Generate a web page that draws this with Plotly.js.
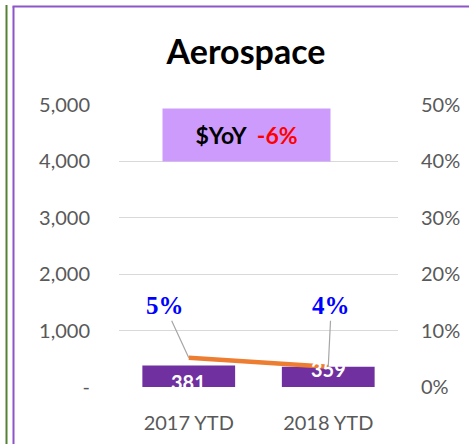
<!DOCTYPE html>
<html>
<head>
<meta charset="utf-8">
<script src="https://cdn.plot.ly/plotly-3.0.1.min.js"></script>
<style>
html,body{margin:0;padding:0;background:#fff;}
#chart{width:469px;height:444px;}
</style>
</head>
<body>
<div id="chart"></div>
<script>
// Data
const categories = ['2017 YTD', '2018 YTD'];
const salesValues = [381, 359];
const marginValues = [0.052, 0.036];
const marginLabels = ['5%', '4%'];
const yTickVals = [0, 1000, 2000, 3000, 4000, 5000];
const yTickText = ['-', '1,000', '2,000', '3,000', '4,000', '5,000'];
const y2TickVals = [0, 0.1, 0.2, 0.3, 0.4, 0.5];
const y2TickText = ['0%', '10%', '20%', '30%', '40%', '50%'];
const chartTitle = 'Aerospace';
const yoyLabel = '$YoY';
const yoyValue = '-6%';

const FONT = 'Lato, "Open Sans", sans-serif';
const GRAY = '#595959';

const traces = [
  {
    type: 'bar',
    x: categories,
    y: salesValues,
    marker: {color: '#7030A0'},
    width: 0.665,
    hoverinfo: 'skip',
    showlegend: false
  },
  {
    type: 'scatter',
    mode: 'lines',
    x: categories,
    y: marginValues,
    yaxis: 'y2',
    line: {color: '#ED7D31', width: 4.5},
    hoverinfo: 'skip',
    showlegend: false
  }
];

const annotations = [];
// bar value labels
const barShifts = [-16, -2];
categories.forEach((c, i) => {
  annotations.push({
    xref: 'x', yref: 'y', x: c, y: salesValues[i],
    text: '<b>' + salesValues[i] + '</b>',
    showarrow: false, yanchor: 'middle', yshift: barShifts[i],
    font: {family: FONT, size: 20, color: '#FFFFFF'}
  });
});
// margin labels with leader lines
const labelOffsets = [[-24, -52], [3, -61]];
categories.forEach((c, i) => {
  annotations.push({
    xref: 'x', yref: 'y2', x: c, y: marginValues[i],
    text: '<b>' + marginLabels[i] + '</b>',
    showarrow: true, arrowhead: 0, arrowwidth: 1.2, arrowcolor: '#A6A6A6',
    ax: labelOffsets[i][0], ay: labelOffsets[i][1], standoff: 0,
    font: {family: '"Liberation Serif", "Times New Roman", serif', size: 25, color: '#0000FF'}
  });
});
// YoY box
annotations.push({
  xref: 'paper', yref: 'paper',
  x: (246.5 - 119) / 279, y: (387 - 135) / 282,
  xanchor: 'center', yanchor: 'middle',
  width: 167, height: 52, bgcolor: '#CC9BFC', borderpad: 0,
  text: '<b>' + yoyLabel + '  <span style="color:#FF0000">' + yoyValue + '</span></b>',
  showarrow: false,
  font: {family: FONT, size: 23, color: '#000000'}
});

const shapes = [
  // green border of neighbouring chart
  {type: 'line', xref: 'paper', yref: 'paper',
   x0: (6.5 - 119) / 279, x1: (6.5 - 119) / 279,
   y0: (387 - 5) / 282, y1: (387 - 450) / 282,
   line: {color: '#548235', width: 2}},
  // purple frame left
  {type: 'line', xref: 'paper', yref: 'paper',
   x0: (13.5 - 119) / 279, x1: (13.5 - 119) / 279,
   y0: (387 - 6.5) / 282, y1: (387 - 450) / 282,
   line: {color: '#8E55C8', width: 2}},
  // purple frame top
  {type: 'line', xref: 'paper', yref: 'paper',
   x0: (12.5 - 119) / 279, x1: (480 - 119) / 279,
   y0: (387 - 6.5) / 282, y1: (387 - 6.5) / 282,
   line: {color: '#8E55C8', width: 2}}
];

const layout = {
  width: 469, height: 444,
  margin: {l: 119, r: 71, t: 105, b: 57, pad: 0},
  paper_bgcolor: '#FFFFFF', plot_bgcolor: '#FFFFFF',
  title: {
    text: '<b>' + chartTitle + '</b>',
    xref: 'container', yref: 'container',
    x: 246 / 469, xanchor: 'center',
    y: 1 - 52 / 444, yanchor: 'middle',
    font: {family: FONT, size: 34, color: '#000000'}
  },
  bargap: 0.335,
  xaxis: {
    type: 'category',
    range: [-0.5, 1.5],
    showgrid: false, zeroline: false, showline: false,
    ticks: '',
    ticklabelstandoff: 22,
    tickfont: {family: FONT, size: 20, color: GRAY},
    fixedrange: true
  },
  yaxis: {
    range: [0, 5000],
    tickvals: yTickVals, ticktext: yTickText,
    showgrid: true, gridcolor: '#D9D9D9', gridwidth: 1.2,
    zeroline: false, showline: false, ticks: '',
    ticklabelstandoff: 28,
    tickfont: {family: FONT, size: 20, color: GRAY},
    fixedrange: true
  },
  yaxis2: {
    range: [0, 0.5],
    overlaying: 'y', side: 'right',
    tickvals: y2TickVals, ticktext: y2TickText,
    showgrid: false, zeroline: false, showline: false, ticks: '',
    ticklabelstandoff: 22,
    tickfont: {family: FONT, size: 20, color: GRAY},
    fixedrange: true
  },
  annotations: annotations,
  shapes: shapes,
  showlegend: false
};

Plotly.newPlot('chart', traces, layout, {staticPlot: true, displayModeBar: false});
</script>
</body>
</html>
